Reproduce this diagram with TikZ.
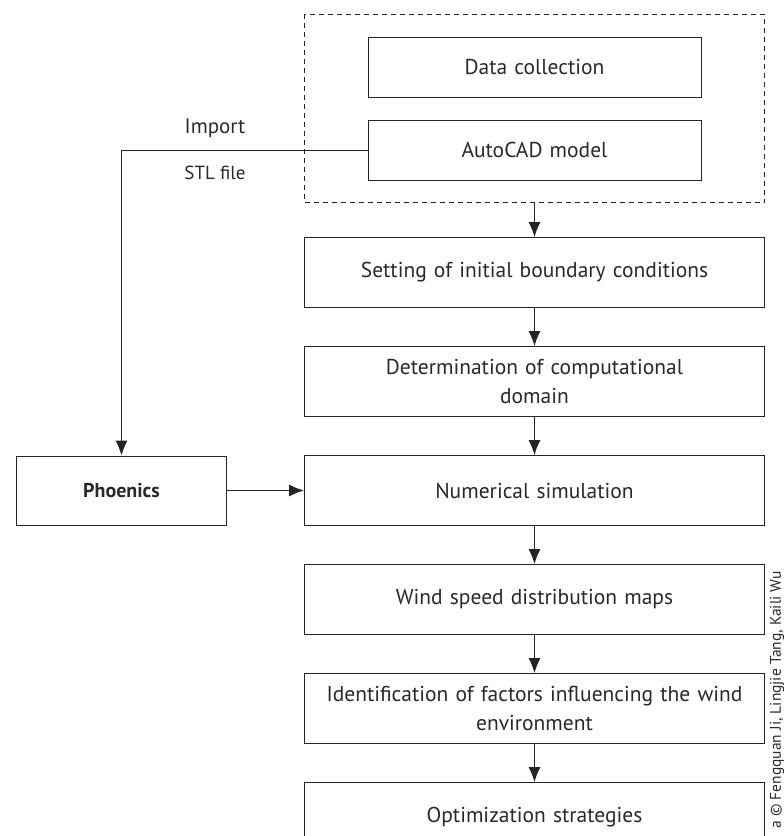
\documentclass[tikz,border=0pt]{standalone}
\usepackage{fontspec}
\setmainfont{PT Sans}
\usepackage{tikz}
\usetikzlibrary{arrows.meta,positioning,fit}
\definecolor{FlowInk}{gray}{0.16}
\definecolor{FlowLine}{gray}{0.14}

\begin{document}
\begin{tikzpicture}[x=1pt,y=-1pt,
  stepbox/.style={draw=FlowLine,line width=1pt,minimum width=460pt,minimum height=70pt,text width=450pt,align=center,text=FlowInk,font=\fontsize{21.5}{29}\selectfont},
  inbox/.style={stepbox,minimum width=333pt,minimum height=60pt,text width=320pt},
  toolbox/.style={stepbox,minimum width=210pt,minimum height=69pt,text width=200pt,font=\fontsize{20}{24}\selectfont\bfseries},
  frame/.style={draw=FlowLine,line width=1pt,dash pattern=on 5pt off 4pt,inner xsep=63pt,inner ysep=22pt},
  arrow/.style={-{Latex[length=15pt,width=12pt]},line width=1pt,draw=FlowLine},
  lbl/.style={text=FlowInk,font=\fontsize{21}{25}\selectfont},
  node distance=38pt]
  \useasboundingbox (0,0) rectangle (784,836);
  \node[inbox] (data) at (534.5,67) {Data collection};
  \node[inbox] (cad) at (534.5,150) {AutoCAD model};
  \node[frame,fit=(data)(cad)] (prep) {};
  \node[stepbox,below=34pt of prep] (bc) {Setting of initial boundary conditions};
  \node[stepbox,below=of bc] (domain) {Determination of computational\\ domain};
  \node[stepbox,below=of domain] (sim) {Numerical simulation};
  \node[toolbox,left=77pt of sim] (phx) {Phoenics};
  \node[stepbox,below=of sim] (maps) {Wind speed distribution maps};
  \node[stepbox,below=of maps] (factor) {Identification of factors influencing the wind\\ environment};
  \node[stepbox,below=of factor] (opt) {Optimization strategies};
  \node[lbl,rotate=90,anchor=east,font=\fontsize{15.5}{18}\selectfont] (credit) at (777,568) {a © Fengquan Ji, Lingjie Tang, Kaili Wu};
  \draw[arrow] (cad.west) -| node[lbl,pos=0.31,above=8pt]{Import} node[lbl,pos=0.31,below=12pt,font=\fontsize{19}{22}\selectfont]{STL file} (phx.north);
  \draw[arrow] (phx)--(sim);
  \draw[arrow] (prep)--(bc);
  \draw[arrow] (bc)--(domain);
  \draw[arrow] (domain)--(sim);
  \draw[arrow] (sim)--(maps);
  \draw[arrow] (maps)--(factor);
  \draw[arrow] (factor)--(opt);
\end{tikzpicture}
\end{document}
